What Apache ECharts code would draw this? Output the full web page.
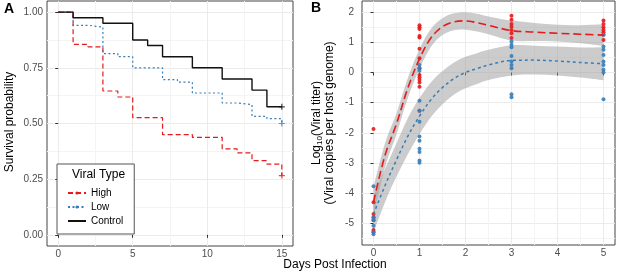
<!DOCTYPE html>
<html>
<head>
<meta charset="utf-8">
<script src="https://cdn.jsdelivr.net/npm/echarts@6/dist/echarts.min.js"></script>
<style>
  html, body { margin: 0; padding: 0; background: #fff; }
  #chart { width: 617px; height: 273px; }
</style>
</head>
<body>
<div id="chart"></div>
<script>
  // panel A: Kaplan-Meier survival
  var highTimes = [0, 1, 2, 3, 4, 5, 7, 9, 11, 12, 13, 14, 15];
  var highSurv = [1, 0.855, 0.844, 0.646, 0.619, 0.526, 0.45, 0.438, 0.386, 0.368, 0.333, 0.318, 0.266];
  var lowTimes = [0, 1, 2, 3, 4, 5, 7, 8, 9, 11, 12, 13, 14, 15];
  var lowSurv = [1, 0.941, 0.933, 0.814, 0.8, 0.75, 0.697, 0.686, 0.637, 0.592, 0.585, 0.532, 0.522, 0.5];
  var controlTimes = [0, 1, 3, 5, 6, 7, 9, 11, 13, 14, 15];
  var controlSurv = [1, 0.975, 0.95, 0.875, 0.85, 0.8, 0.75, 0.7, 0.65, 0.575, 0.575];

  var survTicksX = [0, 5, 10, 15];
  var survMinorX = [2.5, 7.5, 12.5];
  var survTicksY = [0, 0.25, 0.5, 0.75, 1];
  var survMinorY = [0.125, 0.375, 0.625, 0.875];

  // panel B: viral titer
  var titerDays = [0, 1, 3, 5];
  var highTiter = [
    [-1.87, -4.30, -4.69, -4.80, -4.90, -5.22, -5.28],
    [1.57, 1.50, 1.44, 1.21, 1.16, 0.79, 0.47, 0.14, -0.08, -0.16, -0.24, -0.33, -0.47, -1.27],
    [1.88, 1.75, 1.61, 1.52, 1.41, 1.30, 1.14],
    [1.72, 1.61, 1.50, 1.41, 1.33, 1.25, 1.08]
  ];
  var lowTiter = [
    [-3.77, -4.82, -4.88, -5.08, -5.30, -5.36],
    [0.25, 0.14, 0.06, -0.94, -1.27, -1.63, -2.12, -2.26, -2.53, -2.64, -2.92, -2.99],
    [1.03, 0.92, 0.84, 0.55, 0.36, 0.25, 0.14, -0.72, -0.82],
    [1.25, 0.86, 0.75, 0.58, 0.36, 0.25, 0.09, 0.0, -0.89]
  ];
  var fitX = [0, 0.25, 0.5, 0.75, 1, 1.25, 1.5, 1.75, 2, 2.25, 2.5, 3, 3.5, 4, 4.5, 5];
  var highFit = [-4.3, -2.75, -1.7, -0.5, 0.45, 1.15, 1.52, 1.68, 1.71, 1.65, 1.56, 1.39, 1.34, 1.3, 1.27, 1.24];
  var highUpper = [-3.8, -2.35, -1.35, -0.17, 0.78, 1.45, 1.8, 1.96, 2.0, 1.95, 1.86, 1.72, 1.64, 1.58, 1.57, 1.6];
  var highLower = [-4.8, -3.15, -2.05, -0.83, 0.12, 0.85, 1.24, 1.4, 1.42, 1.36, 1.27, 1.06, 1.04, 1.03, 0.97, 0.88];
  var lowFit = [-4.7, -3.75, -2.9, -2.1, -1.45, -0.9, -0.5, -0.2, 0.0, 0.13, 0.25, 0.4, 0.41, 0.38, 0.33, 0.29];
  var lowUpper = [-4.1, -3.2, -2.35, -1.5, -0.85, -0.32, 0.05, 0.33, 0.52, 0.64, 0.75, 0.9, 0.89, 0.86, 0.83, 0.84];
  var lowLower = [-5.3, -4.3, -3.45, -2.7, -2.05, -1.48, -1.05, -0.73, -0.52, -0.38, -0.25, -0.1, -0.07, -0.1, -0.17, -0.26];

  var titerTicksX = [0, 1, 2, 3, 4, 5];
  var titerMinorX = [0.5, 1.5, 2.5, 3.5, 4.5];
  var titerTicksY = [-5, -4, -3, -2, -1, 0, 1, 2];
  var titerMinorY = [-5.5, -4.5, -3.5, -2.5, -1.5, -0.5, 0.5, 1.5];

  var RED = '#E41A1C', BLUE = '#377EB8';
  var FONT = 'Liberation Sans, Arial, sans-serif';

  function zip(xs, ys) {
    return xs.map(function (x, i) { return [x, ys[i]]; });
  }
  function points(vals) {
    var out = [];
    titerDays.forEach(function (d, i) {
      vals[i].forEach(function (v) { out.push([d, v]); });
    });
    return out;
  }

  // catmull-rom style bezier through pixel points (continuing an open path)
  function curveTo(pts, t) {
    var d = '';
    for (var i = 0; i < pts.length - 1; i++) {
      var p0 = pts[Math.max(i - 1, 0)], p1 = pts[i], p2 = pts[i + 1], p3 = pts[Math.min(i + 2, pts.length - 1)];
      var c1x = p1[0] + (p2[0] - p0[0]) * t, c1y = p1[1] + (p2[1] - p0[1]) * t;
      var c2x = p2[0] - (p3[0] - p1[0]) * t, c2y = p2[1] - (p3[1] - p1[1]) * t;
      d += ' C' + c1x + ',' + c1y + ' ' + c2x + ',' + c2y + ' ' + p2[0] + ',' + p2[1];
    }
    return d;
  }

  function ribbon(upper, lower) {
    return {
      type: 'custom', xAxisIndex: 2, yAxisIndex: 2, silent: true,
      data: fitX.map(function (x, i) { return [x, lower[i], upper[i]]; }),
      encode: {x: 0, y: [1, 2]},
      renderItem: function (params, api) {
        if (params.dataIndex !== 0) return;
        var up = fitX.map(function (x, i) { return api.coord([x, upper[i]]); });
        var lo = fitX.map(function (x, i) { return api.coord([x, lower[i]]); }).reverse();
        var d = 'M' + up[0][0] + ',' + up[0][1] + curveTo(up, 1 / 6) +
          ' L' + lo[0][0] + ',' + lo[0][1] + curveTo(lo, 1 / 6) + ' Z';
        return {
          type: 'path',
          shape: {pathData: d},
          style: {fill: 'rgba(153,153,153,0.5)', stroke: null}
        };
      }
    };
  }

  function majorAxis(grid, min, max, ticks, fmt, margin) {
    return {
      type: 'value', gridIndex: grid, min: min, max: max,
      axisLine: {show: false},
      axisTick: {show: true, customValues: ticks, length: 3, lineStyle: {color: '#333', width: 1}},
      axisLabel: {customValues: ticks, color: '#4d4d4d', fontSize: 10, fontFamily: FONT, margin: margin, formatter: fmt},
      splitLine: {show: true, lineStyle: {color: '#ebebeb', width: 1}}
    };
  }
  function minorAxis(grid, min, max, ticks) {
    return {
      type: 'value', gridIndex: grid, min: min, max: max,
      axisLine: {show: false},
      axisTick: {show: false, customValues: ticks},
      axisLabel: {show: false},
      splitLine: {show: true, lineStyle: {color: '#f4f4f4', width: 1}}
    };
  }

  var chart = echarts.init(document.getElementById('chart'));
  var option = {
    animation: false,
    backgroundColor: '#fff',
    textStyle: {fontFamily: FONT},
    grid: [
      {left: 47, top: 1, width: 246, height: 245, show: true, borderColor: '#444', borderWidth: 1, backgroundColor: 'transparent'},
      {left: 362, top: 1, width: 253, height: 244, show: true, borderColor: '#444', borderWidth: 1, backgroundColor: 'transparent'}
    ],
    xAxis: [
      majorAxis(0, -0.75, 15.75, survTicksX, null, 3),
      minorAxis(0, -0.75, 15.75, survMinorX),
      majorAxis(1, -0.25, 5.25, titerTicksX, null, 3),
      minorAxis(1, -0.25, 5.25, titerMinorX)
    ],
    yAxis: [
      majorAxis(0, -0.05, 1.05, survTicksY, function (v) { return v.toFixed(2); }, 4),
      minorAxis(0, -0.05, 1.05, survMinorY),
      majorAxis(1, -5.72, 2.37, titerTicksY, null, 8),
      minorAxis(1, -5.72, 2.37, titerMinorY)
    ],
    title: {
      text: 'Viral Type', left: 72, top: 169, padding: 0,
      textStyle: {fontSize: 12, fontWeight: 'normal', color: '#000', fontFamily: FONT}
    },
    legend: {
      data: ['High', 'Low', {name: 'Control', itemStyle: {opacity: 0}}],
      orient: 'vertical', left: 57, top: 164,
      padding: [23, 11, 7, 10],
      itemWidth: 18, itemHeight: 4, itemGap: 2,
      borderColor: '#555', borderWidth: 1, backgroundColor: '#fff',
      selectedMode: false,
      textStyle: {fontSize: 10, color: '#000', fontFamily: FONT, lineHeight: 12}
    },
    graphic: [
      {type: 'text', left: 4, top: 2, style: {text: 'A', fontSize: 14, fontWeight: 'bold', fill: '#000', fontFamily: FONT}},
      {type: 'text', left: 311, top: 1, style: {text: 'B', fontSize: 14, fontWeight: 'bold', fill: '#000', fontFamily: FONT}},
      {type: 'text', x: 9.5, y: 122, rotation: Math.PI / 2,
        style: {text: 'Survival probability', fontSize: 12, fill: '#000', fontFamily: FONT, align: 'center', verticalAlign: 'middle'}},
      {type: 'text', x: 323.5, y: 123, rotation: Math.PI / 2,
        style: {
          text: '{n|Log}{s|10}{n|(Viral titer)}\n{n|(Viral copies per host genome)}',
          align: 'center', verticalAlign: 'middle', fill: '#000', fontFamily: FONT,
          rich: {
            n: {fontSize: 12, lineHeight: 13, fontFamily: FONT, fill: '#000'},
            s: {fontSize: 8, lineHeight: 13, fontFamily: FONT, fill: '#000', verticalAlign: 'bottom', padding: [5, 0, 0, 0]}
          }
        }},
      {type: 'text', x: 335, y: 265,
        style: {text: 'Days Post Infection', fontSize: 12, fill: '#000', fontFamily: FONT, align: 'center', verticalAlign: 'middle'}}
    ],
    series: [
      {
        name: 'High', type: 'line', step: 'end', xAxisIndex: 0, yAxisIndex: 0,
        data: zip(highTimes, highSurv),
        symbol: 'circle', symbolSize: 3, showSymbol: false,
        lineStyle: {color: RED, width: 1.2, type: [5, 3]}, itemStyle: {color: RED}
      },
      {
        name: 'Low', type: 'line', step: 'end', xAxisIndex: 0, yAxisIndex: 0,
        data: zip(lowTimes, lowSurv),
        symbol: 'circle', symbolSize: 3, showSymbol: false,
        lineStyle: {color: BLUE, width: 1.2, type: [2, 2.5]}, itemStyle: {color: BLUE}
      },
      {
        name: 'Control', type: 'line', step: 'end', xAxisIndex: 0, yAxisIndex: 0,
        data: zip(controlTimes, controlSurv),
        symbol: 'none',
        lineStyle: {color: '#111', width: 1.4}, itemStyle: {color: '#111'}
      },
      {
        type: 'scatter', xAxisIndex: 0, yAxisIndex: 0,
        symbol: 'path://M4,0H6V4H10V6H6V10H4V6H0V4H4Z', symbolSize: 6,
        data: [
          {value: [highTimes[highTimes.length - 1], highSurv[highSurv.length - 1]], itemStyle: {color: RED}},
          {value: [lowTimes[lowTimes.length - 1], lowSurv[lowSurv.length - 1]], itemStyle: {color: BLUE}},
          {value: [controlTimes[controlTimes.length - 1], controlSurv[controlSurv.length - 1]], itemStyle: {color: '#111'}}
        ]
      },
      // panel B points
      {
        name: 'High titer', type: 'scatter', xAxisIndex: 2, yAxisIndex: 2,
        data: points(highTiter), symbolSize: 4, itemStyle: {color: RED, opacity: 0.9}
      },
      {
        name: 'Low titer', type: 'scatter', xAxisIndex: 2, yAxisIndex: 2,
        data: points(lowTiter), symbolSize: 4, itemStyle: {color: BLUE, opacity: 0.9}
      },
      // confidence ribbons
      ribbon(highUpper, highLower),
      ribbon(lowUpper, lowLower),
      // loess fits
      {
        type: 'line', xAxisIndex: 2, yAxisIndex: 2, data: zip(fitX, highFit),
        symbol: 'none', smooth: 0.35, lineStyle: {color: RED, width: 1.6, type: [8, 4]}
      },
      {
        type: 'line', xAxisIndex: 2, yAxisIndex: 2, data: zip(fitX, lowFit),
        symbol: 'none', smooth: 0.35, lineStyle: {color: BLUE, width: 1.5, type: [3, 3]}
      }
    ]
  };
  chart.setOption(option);
</script>
</body>
</html>
